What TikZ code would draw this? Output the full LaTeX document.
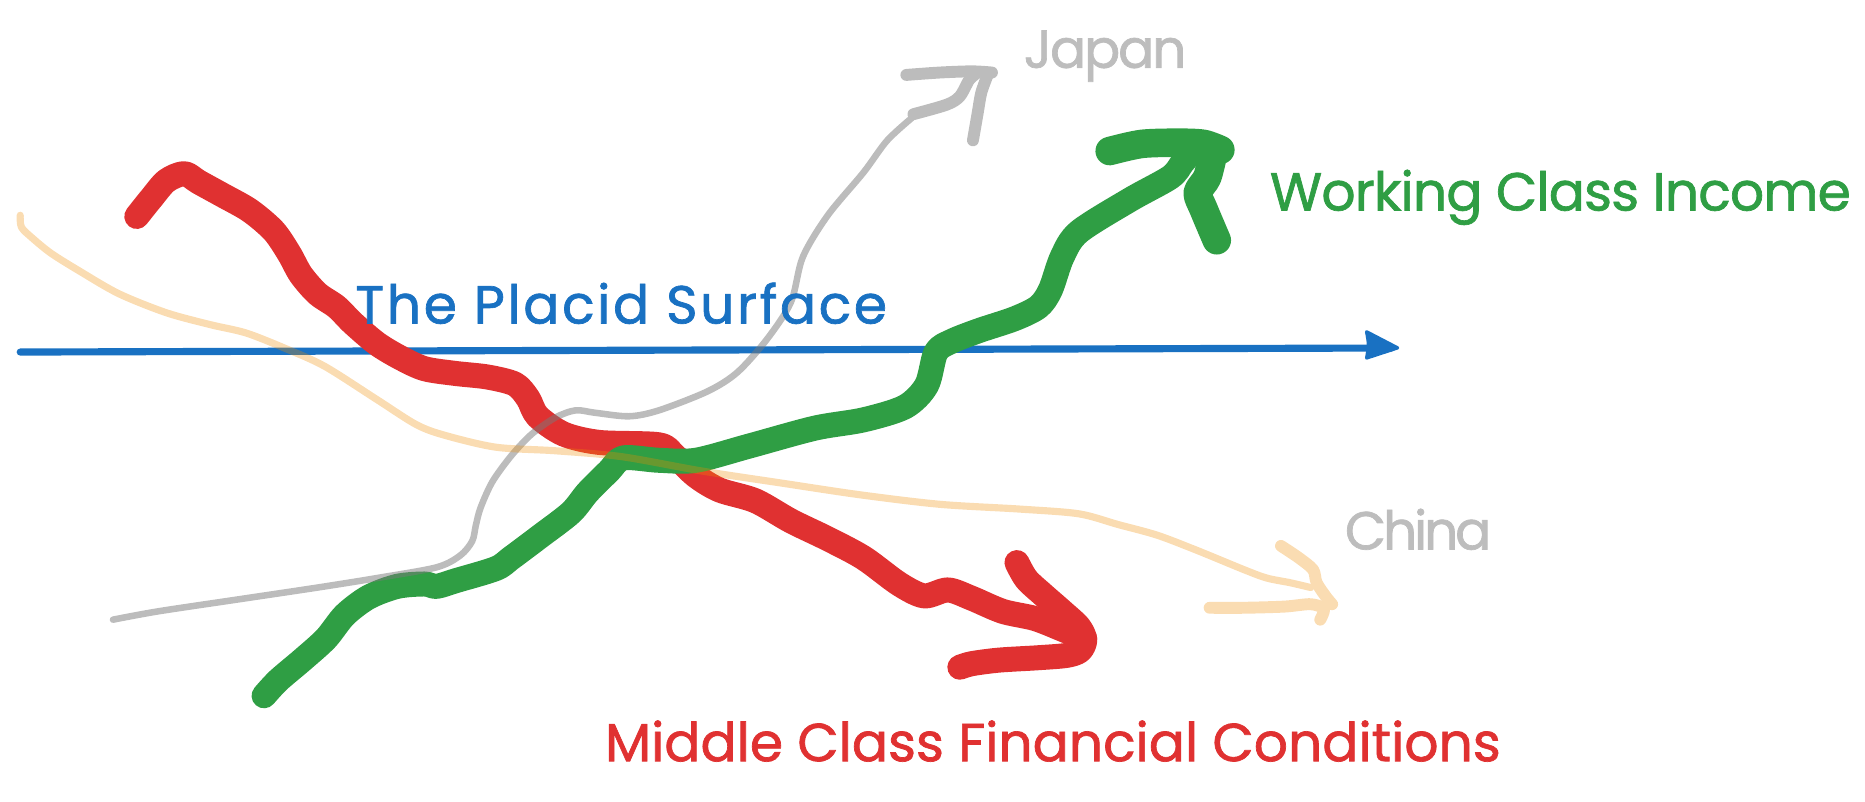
\documentclass[tikz,border=0pt]{standalone}
\usepackage{fontspec}
\setmainfont{Poppins}[FakeBold=1.3]
\definecolor{xred}{HTML}{E03131}
\definecolor{xgreen}{HTML}{2F9E44}
\definecolor{xblue}{HTML}{1971C2}
\definecolor{xgray}{HTML}{7A7A7A}
\definecolor{xorange}{HTML}{F08C00}
\definecolor{xgraytext}{HTML}{BDBDBD}
\tikzset{
  lbl/.style={font=\fontsize{12.8}{15}\selectfont, inner sep=0pt, anchor=base west},
  spaced/.style={font=\fontsize{12.8}{15}\selectfont\addfontfeatures{LetterSpace=#1}},
  stroke/.style={line cap=round, line join=round},
  redline/.style={stroke, draw=xred, line width=0.21cm},
  greenline/.style={stroke, draw=xgreen, line width=0.21cm},
  greenhead/.style={stroke, draw=xgreen, line width=0.24cm},
  blueline/.style={stroke, draw=xblue, line width=0.06cm},
  grayline/.style={stroke, draw=xgray, line width=0.055cm},
  grayhead/.style={stroke, draw=xgray, line width=0.1cm},
  orangeline/.style={stroke, draw=xorange, line width=0.06cm},
  orangehead/.style={stroke, draw=xorange, line width=0.1cm},
}
\begin{document}
\begin{tikzpicture}[x=0.01cm, y=-0.01cm]
\useasboundingbox (0,0) rectangle (1568,674);

% blue axis
\coordinate (bS) at (17,296);
\coordinate (bE) at (1170,292.6);
\coordinate (bT) at (1175,292.5);
\draw[blueline] (bS) -- (bE);
\fill[xblue, draw=xblue, line join=round, line width=0.8pt] (bT) -- (1149,279) .. controls (1151,290) .. (1149,301) -- cycle;

% red: middle class financial conditions
\draw[redline] plot[smooth, tension=0.5] coordinates {
 (115,182) (127,167) (140,152) (155,146) (167,153) (187,164) (210,177)
 (230,194) (243,213) (253,231) (267,247) (283,258) (297,272) (317,289)
 (337,301) (357,310) (383,314) (410,317) (433,323) (444,335) (452,350)
 (474,365) (504,372) (554,374) (567,383) (585,400) (605,412) (635,421)
 (665,438) (696,453) (726,469) (756,491) (777,501) (797,496) (817,503)
 (843,514) (870,520) (893,529) (912,537)};
\draw[redline] plot[smooth, tension=0.5] coordinates {
 (855,473) (863,487) (877,500) (893,514) (907,527) (912,538) (908,547)
 (897,551) (873,553) (840,555) (817,558) (807,561)};

% green: working class income
\draw[greenline] plot[smooth, tension=0.5] coordinates {
 (222,585) (234,572) (254,555) (274,537) (290,517) (310,502) (334,493)
 (357,491) (367,493) (384,488) (417,478) (430,469) (454,451) (480,431)
 (494,414) (512,396) (524,385) (554,387) (585,387) (630,375) (685,360)
 (726,353) (761,342) (779,324) (787,296) (800,287) (823,278) (853,268)
 (873,258) (883,244) (893,216) (907,195) (950,168) (984,149) (994,137)
 (1000,130)};
\draw[greenhead] plot[smooth, tension=0.5] coordinates {
 (933,127) (960,121) (992,120) (1012,121) (1026,126)};
\draw[greenhead] plot[smooth, tension=0.5] coordinates {
 (1020,129) (1015,149) (1007,162) (1012,176) (1023,202)};

% gray: Japan
\begin{scope}[transparency group, opacity=0.5]
\draw[grayline] plot[smooth, tension=0.5] coordinates {
 (95,521) (133,514) (200,504) (267,494) (317,486) (367,477) (387,467)
 (397,455) (400,442) (404,427) (414,405) (430,383) (447,365) (467,351)
 (484,345) (500,347) (529,350) (554,345) (595,329) (620,313) (645,285)
 (665,254) (675,216) (696,181) (726,145) (746,118) (768,98)};
\draw[grayhead] plot[smooth, tension=0.5] coordinates {
 (768,96) (796,88) (807,81) (815,67) (822,61)};
\draw[grayhead] plot[smooth, tension=0.5] coordinates {
 (762,63) (790,61) (817,60) (834,61)};
\draw[grayhead] plot[smooth, tension=0.5] coordinates {
 (830,64) (825,78) (822,95) (818,118)};
\end{scope}

% orange: China
\begin{scope}[transparency group, opacity=0.3]
\draw[orangeline] plot[smooth, tension=0.5] coordinates {
 (17,181) (18,191) (27,200) (43,213) (67,228) (100,247) (140,263)
 (177,273) (207,280) (240,293) (273,308) (317,336) (350,357) (374,366)
 (417,376) (467,379) (523,384) (590,396) (656,406) (723,416) (790,424)
 (857,428) (907,432) (940,441) (973,450) (1007,463) (1046,479) (1065,486)
 (1085,490) (1102,494)};
\draw[orangehead] plot[smooth, tension=0.5] coordinates {
 (1077,459) (1092,469) (1104,479) (1107,490) (1115,502) (1120,508)};
\draw[orangehead] plot[smooth, tension=0.5] coordinates {
 (1017,511) (1046,511) (1080,510) (1102,508) (1113,512) (1110,521)};
\end{scope}

% labels
\node[lbl, spaced=4.9, text=xblue] (placid) at (298,272) {The Placid Surface};
\node[lbl, spaced=-4, text=xgraytext] (japan) at (860,57) {Japan};
\node[lbl, spaced=-1.6, text=xgreen] (working) at (1067,177) {Working Class Income};
\node[lbl, spaced=-6, text=xgraytext] (china) at (1130,462) {China};
\node[lbl, text=xred] (middle) at (508,640) {Middle Class Financial Conditions};
\end{tikzpicture}
\end{document}
